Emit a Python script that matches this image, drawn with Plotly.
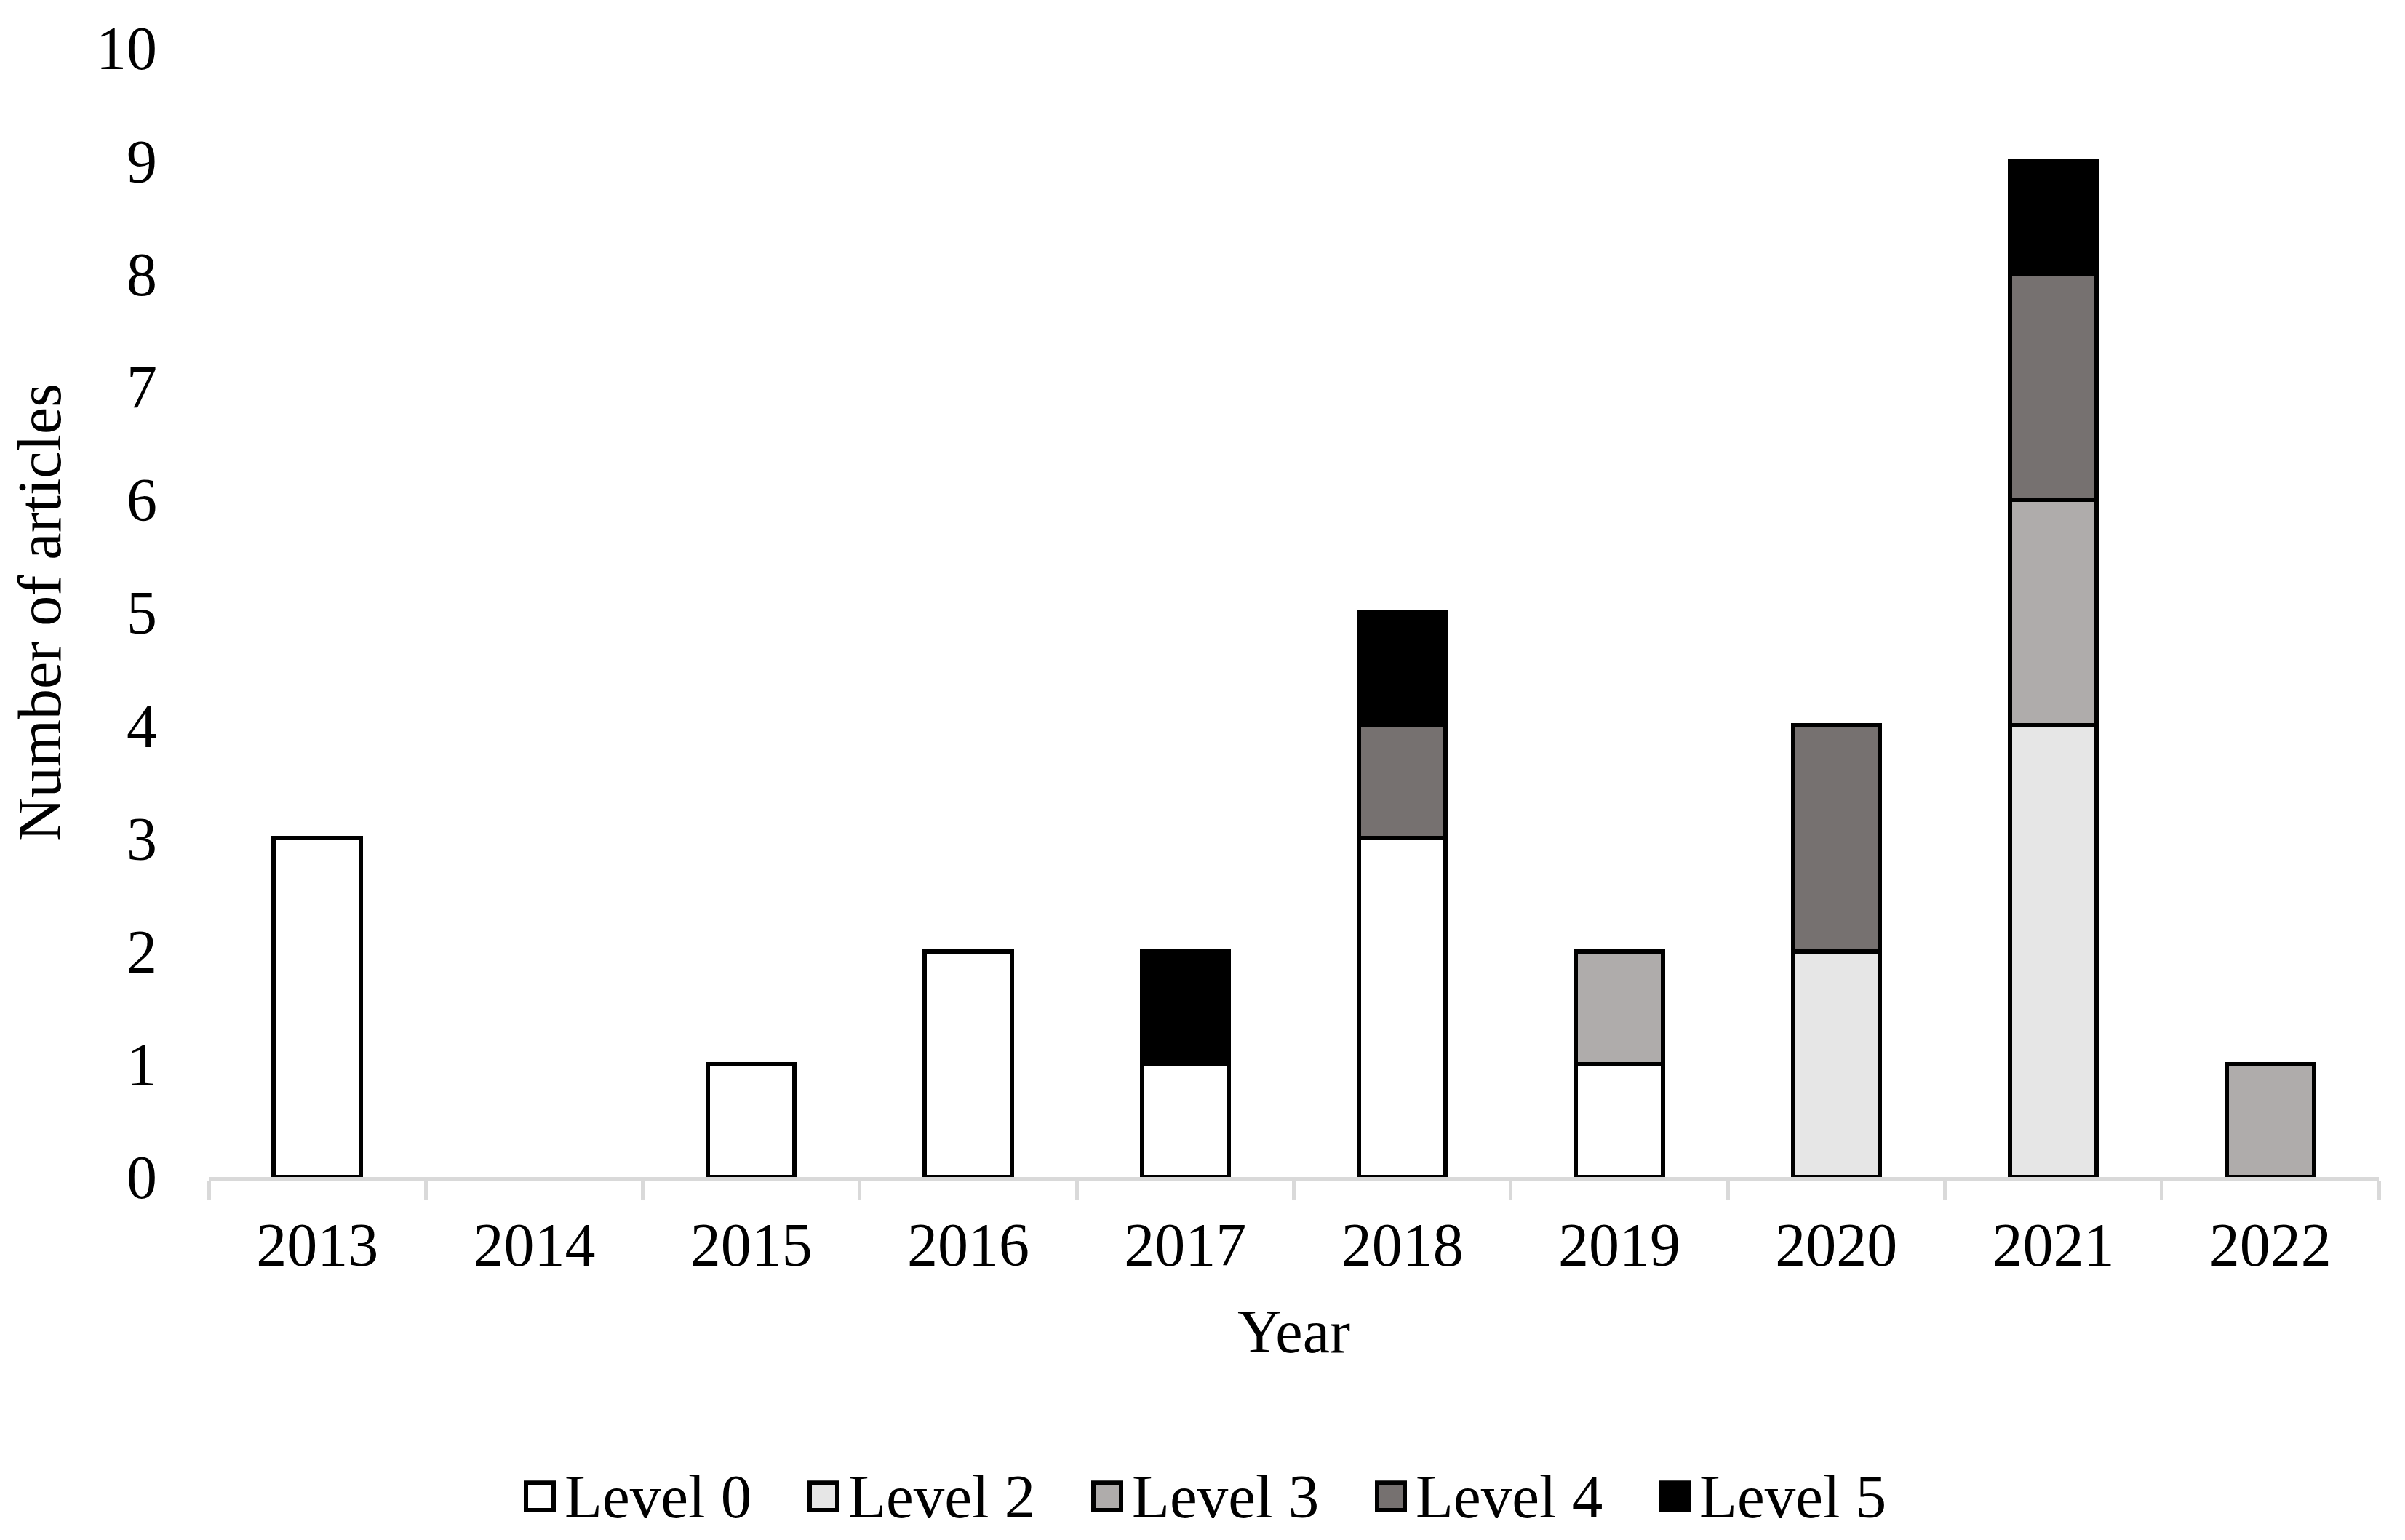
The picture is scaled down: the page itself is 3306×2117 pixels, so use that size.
import plotly.graph_objects as go

years = ["2013", "2014", "2015", "2016", "2017", "2018", "2019", "2020", "2021", "2022"]
level0 = [3, None, 1, 2, 1, 3, 1, None, None, None]
level2 = [None, None, None, None, None, None, None, 2, 4, None]
level3 = [None, None, None, None, None, None, 1, None, 2, 1]
level4 = [None, None, None, None, None, 1, None, 2, 2, None]
level5 = [None, None, None, None, 1, 1, None, None, 1, None]

series = [
    ("Level 0", level0, "#FFFFFF"),
    ("Level 2", level2, "#E6E6E6"),
    ("Level 3", level3, "#AFACAB"),
    ("Level 4", level4, "#767170"),
    ("Level 5", level5, "#000000"),
]

FONT = "Liberation Serif"
W, H = 3306, 2117
L, R, T, B = 279, 44, 48, 507
PW, PH = W - L - R, H - T - B

fig = go.Figure()
for name, vals, col in series:
    fig.add_trace(go.Bar(
        x=years, y=vals, name=name,
        marker=dict(color=col, line=dict(color="#000000", width=6)),
        showlegend=False,
    ))

# custom legend with large outlined squares (below the plot)
leg_y_px = 2052          # centre of legend row in page pixels
first_px = 712           # left edge of first square
step_px = 390            # distance between items
sq = 44                  # square size
def px_x(p):
    return (p - L) / PW
def px_y(p):
    return (H - B - p) / PH
for i, (name, vals, col) in enumerate(series):
    x0 = first_px + i * step_px
    fig.add_shape(type="rect", xref="paper", yref="paper",
                  x0=px_x(x0 + 3), x1=px_x(x0 + sq - 3),
                  y0=px_y(leg_y_px + sq / 2 - 3), y1=px_y(leg_y_px - sq / 2 + 3),
                  fillcolor=col, line=dict(color="#000000", width=6))
    fig.add_annotation(xref="paper", yref="paper", x=px_x(x0 + sq + 10), y=px_y(leg_y_px),
                       text=name, showarrow=False, xanchor="left", yanchor="middle",
                       font=dict(family=FONT, size=85, color="black"))

fig.update_layout(
    barmode="stack",
    bargap=0.6,
    width=W, height=H,
    margin=dict(l=L, r=R, t=T, b=B),
    paper_bgcolor="white", plot_bgcolor="white",
    font=dict(family=FONT, size=84, color="black"),
    showlegend=False,
)
fig.update_xaxes(
    type="category",
    showline=True, linecolor="#D9D9D9", linewidth=5,
    ticks="outside", tickson="boundaries", ticklen=26, tickwidth=5, tickcolor="#D9D9D9",
    ticklabelstandoff=16,
    showgrid=False, zeroline=False,
    title=dict(text="Year", font=dict(family=FONT, size=84), standoff=45),
    tickfont=dict(family=FONT, size=84),
)
fig.update_yaxes(
    range=[0, 10], dtick=1, showgrid=False, zeroline=False, showline=False,
    ticks="", ticklabelstandoff=70,
    title=dict(text="Number of articles", font=dict(family=FONT, size=84), standoff=40),
    tickfont=dict(family=FONT, size=84),
)
fig.write_html("out.html")
